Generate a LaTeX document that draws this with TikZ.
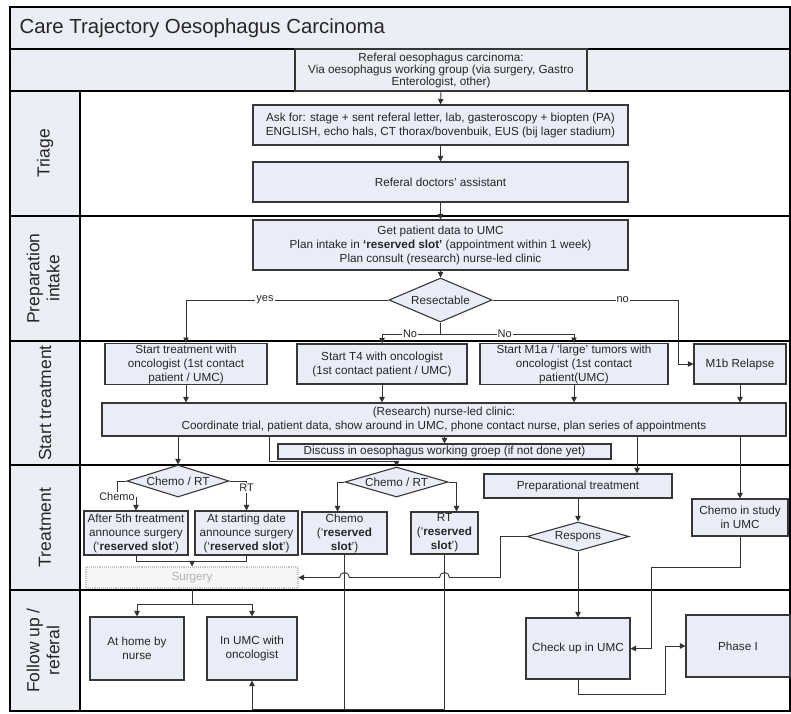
\documentclass[tikz,border=0pt]{standalone}
\usepackage{fontspec}
\setmainfont{Liberation Sans}
\usetikzlibrary{shapes.geometric, arrows.meta, positioning}

\definecolor{boxfill}{RGB}{234,237,247}
\definecolor{lanefill}{RGB}{236,238,245}
\definecolor{boxline}{RGB}{55,55,55}

\begin{document}
\begin{tikzpicture}[x=1pt,y=-1pt,>={Triangle[length=5.5pt,width=5.5pt]},text=black!85]
\tikzstyle{box}=[rectangle,draw=boxline,line width=1.1pt,fill=boxfill,align=center,inner sep=1pt,font=\fontsize{11.7}{14}\selectfont]
\tikzstyle{choice}=[diamond,draw=boxline,line width=1.1pt,fill=boxfill,inner sep=0pt,font=\fontsize{11.7}{14}\selectfont]
\tikzstyle{lane}=[rotate=90,align=center,font=\fontsize{17.5}{20}\selectfont]
\tikzstyle{lbl}=[fill=white,inner sep=1pt,font=\fontsize{11}{12}\selectfont]
\tikzstyle{flow}=[draw=black!80,line width=0.9pt]

\useasboundingbox (0,0) rectangle (791,713);

%-- Lanes --
\fill[lanefill] (10,7) rectangle (790,91);
\fill[lanefill] (10,91) rectangle (80,711);
\draw[line width=1.2pt] (10,7) rectangle (790,711);
\foreach \y in {49,91,216,341,465,590} \draw[line width=1.2pt] (10,\y) -- (790,\y);
\draw[line width=1.2pt] (80,91) -- (80,711);

\node[anchor=west,font=\fontsize{20.4}{24}\selectfont] (title) at (16,28) {Care Trajectory Oesophagus Carcinoma};

\node[lane] (triage) at (45,153.5) {Triage};
\node[lane] (prepintake) at (43,278.5) {Preparation\\intake};
\node[lane] (starttreat) at (45,403) {Start treatment};
\node[lane] (treatment) at (45,527.5) {Treatment};
\node[lane] (followup) at (43,650.5) {Follow up /\\referal};

%-- Triage --
\node[box,fill=lanefill,minimum width=292pt,minimum height=42pt,font=\fontsize{11.7}{12}\selectfont] (referral) at (441,70) {Referal oesophagus carcinoma:\\Via oesophagus working group (via surgery, Gastro\\Enterologist, other)};
\node[box,minimum width=375pt,minimum height=40pt] (ask) at (440.5,125) {Ask for: stage + sent referal letter, lab, gasteroscopy + biopten (PA)\\ENGLISH, echo hals, CT thorax/bovenbuik, EUS (bij lager stadium)};
\node[box,minimum width=375pt,minimum height=40pt] (assistant) at (440.5,182) {Referal doctors' assistant};

%-- Preparation intake --
\node[box,minimum width=375pt,minimum height=50pt] (intake) at (440.5,245) {Get patient data to UMC\\Plan intake in \textbf{`reserved slot'} (appointment within 1 week)\\Plan consult (research) nurse-led clinic};
\node[choice,aspect=2.34,minimum width=103pt,minimum height=44pt] (resect) at (440.5,300) {Resectable};

%-- Start treatment --
\node[box,minimum width=162pt,minimum height=40pt] (startonc) at (186,364) {Start treatment with\\oncologist (1st contact\\patient / UMC)};
\node[box,minimum width=170pt,minimum height=40pt] (startT4) at (382,364) {Start T4 with oncologist\\(1st contact patient / UMC)};
\node[box,minimum width=188pt,minimum height=40pt] (startM1a) at (574,364) {Start M1a / `large' tumors with\\oncologist (1st contact\\patient(UMC)};
\node[box,minimum width=92pt,minimum height=40pt] (relapse) at (740,364) {M1b Relapse};
\node[box,minimum width=684pt,minimum height=33pt] (nurse) at (444,419.5) {(Research) nurse-led clinic:\\Coordinate trial, patient data, show around in UMC, phone contact nurse, plan series of appointments};
\node[box,minimum width=333pt,minimum height=15pt,inner sep=0pt] (discuss) at (444.5,451.5) {Discuss in oesophagus working groep (if not done yet)};

%-- Treatment --
\node[choice,aspect=3.2,minimum width=102pt,minimum height=32pt] (cr1) at (178,481) {Chemo / RT};
\node[box,minimum width=104pt,minimum height=44pt] (after5) at (136,533) {After 5th treatment\\announce surgery\\(`\textbf{reserved slot}')};
\node[box,minimum width=103pt,minimum height=44pt] (atstart) at (246.5,533) {At starting date\\announce surgery\\(`\textbf{reserved slot}')};
\node[box,draw=gray!45,densely dotted,fill=gray!7,text=gray!60,minimum width=212pt,minimum height=21pt] (surgery) at (192,577.5) {Surgery};
\node[choice,aspect=3.4,minimum width=103pt,minimum height=30pt] (cr2) at (396.5,482) {Chemo / RT};
\node[box,minimum width=85pt,minimum height=42pt] (chemo) at (344.5,533) {Chemo\\(`\textbf{reserved}\\\textbf{slot}')};
\node[box,minimum width=67pt,minimum height=42pt] (rt) at (444.5,533) {RT\\(`\textbf{reserved}\\\textbf{slot}')};
\node[box,minimum width=188pt,minimum height=24pt] (preptreat) at (578,486) {Preparational treatment};
\node[choice,aspect=3.5,minimum width=102pt,minimum height=29pt] (respons) at (578,536.5) {Respons};
\node[box,minimum width=96pt,minimum height=37pt] (chemostudy) at (740,517.5) {Chemo in study\\in UMC};

%-- Follow up / referal --
\node[box,minimum width=94pt,minimum height=63pt] (home) at (137,648.5) {At home by\\nurse};
\node[box,minimum width=90pt,minimum height=63pt] (inumc) at (252,648.5) {In UMC with\\oncologist};
\node[box,minimum width=104pt,minimum height=61pt] (checkup) at (578,648.5) {Check up in UMC};
\node[box,minimum width=104pt,minimum height=62pt] (phase) at (738,646) {Phase I};

\coordinate (split) at (440.5,334);
\coordinate (bot) at (0,709);
\coordinate (cs1) at (651,567);
\coordinate (cu1) at (665,694);
\coordinate (fork) at (192,604);

%-- Transitions --
% triage
\draw[flow,->] (referral.south) -- (ask.north);
\draw[flow,->] (ask) -- (assistant);
\draw[flow,->] (assistant) -- (intake);
\draw[flow,->] (intake) -- (resect);

% resectable
\draw[flow,->] (resect.west) -| node[lbl,pos=0.305]{yes} (startonc.north);
\draw[flow,->] (resect.east) -| node[lbl,pos=0.35]{no} ([xshift=-15pt]relapse.west) -- (relapse.west);
\draw[flow] (resect.south) -- (split);
\draw[flow,->] (split) -| node[lbl,pos=0.26]{No} (startT4.north);
\draw[flow,->] (split) -| node[lbl,pos=0.24]{No} (startM1a.north);

% start treatment
\foreach \n in {startonc,startT4,startM1a,relapse}
  \draw[flow,->] (\n.south) -- (\n.south |- nurse.north);
\draw[flow,->] (nurse.south -| discuss.north) -- (discuss.north);
\draw[flow,->] ([xshift=-175pt]nurse.south) |- ([yshift=5pt]cr2.north) -- (cr2.north);
\draw[flow,->] (nurse.south -| cr1.north) -- (cr1.north);
\draw[flow,->] ([xshift=59pt]preptreat.north |- nurse.south) -- ([xshift=59pt]preptreat.north);
\draw[flow,->] (nurse.south -| chemostudy.north) -- (chemostudy.north);

% chemo / rt
\draw[flow,->] (cr1.west) -| (117,497) node[lbl]{Chemo} -| (after5.north);
\draw[flow,->] (cr1.east) -| node[lbl,pos=0.62]{RT} (atstart.north);
\draw[flow,->] (cr2.west) -| ([xshift=-7pt]chemo.north);
\draw[flow,->] (cr2.east) -| ([xshift=12pt]rt.north);
\draw[flow,->] (after5.south) |- ([yshift=5pt]surgery.north) -- (surgery.north);
\draw[flow] (atstart.south) |- ([yshift=5pt]surgery.north);

% respons
\draw[flow,->] (preptreat) -- (respons);
\draw[flow,->] (respons.west) -| ([xshift=-26pt]respons.west |- surgery.east)
  -- ([xshift=5pt]rt.south |- surgery.east) arc[start angle=0,end angle=180,radius=5pt]
  -- ([xshift=5pt]chemo.south |- surgery.east) arc[start angle=0,end angle=180,radius=5pt]
  -- (surgery.east);
\draw[flow,->] (respons) -- (checkup);
\draw[flow] (chemo.south) -- (chemo.south |- bot);
\draw[flow,->] (rt.south) |- (bot -| inumc.south) -- (inumc.south);
\draw[flow,->] (chemostudy.south) |- (cs1) |- (checkup.east);

% follow up
\draw[flow] (surgery.south) -- (fork);
\draw[flow,->] (fork) -| (home.north);
\draw[flow,->] (fork) -| (inumc.north);
\draw[flow,->] (checkup.south) |- (cu1) |- (phase.west);

\end{tikzpicture}
\end{document}
